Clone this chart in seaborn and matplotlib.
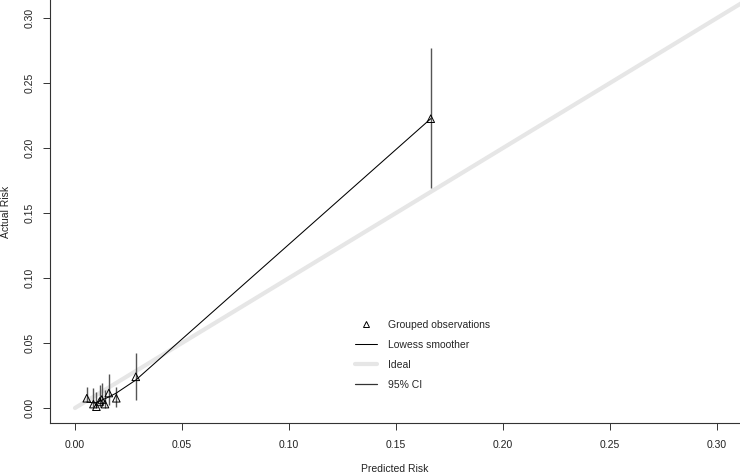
import matplotlib
matplotlib.use("Agg")
import matplotlib.pyplot as plt
from matplotlib.lines import Line2D
import seaborn as sns
import pandas as pd

# Grouped observations
pred = [0.0055, 0.0086, 0.0100, 0.0115, 0.0125, 0.0140, 0.0158, 0.0193, 0.0284, 0.1662]
obs = [0.0075, 0.0030, 0.0010, 0.0050, 0.0065, 0.0030, 0.0115, 0.0075, 0.0240, 0.2225]
ci_low = [0.0045, 0.0010, 0.0000, 0.0005, 0.0015, 0.0000, 0.0020, 0.0005, 0.0060, 0.1690]
ci_high = [0.0165, 0.0150, 0.0120, 0.0180, 0.0190, 0.0140, 0.0265, 0.0160, 0.0420, 0.2770]

# Lowess smoother
lowess_x = [0.0055, 0.0086, 0.0100, 0.0125, 0.0158, 0.0193, 0.0284, 0.1662]
lowess_y = [0.0045, 0.0040, 0.0042, 0.0060, 0.0085, 0.0115, 0.0215, 0.2225]

# Ideal line
ideal = [0.0, 0.32]

ticks = [0.00, 0.05, 0.10, 0.15, 0.20, 0.25, 0.30]
tick_labels = ["0.00", "0.05", "0.10", "0.15", "0.20", "0.25", "0.30"]

sns.set_style("ticks")
plt.rcParams["font.family"] = ["Liberation Sans", "DejaVu Sans"]

W, H = 740, 475
fig = plt.figure(figsize=(W / 100, H / 100), dpi=100)
ax = fig.add_axes([50 / W, 52 / H, 690 / W, 423 / H])

obs_df = pd.DataFrame({"pred": pred, "obs": obs})
low_df = pd.DataFrame({"x": lowess_x, "y": lowess_y})
ideal_df = pd.DataFrame({"x": ideal, "y": ideal})

sns.lineplot(data=ideal_df, x="x", y="y", ax=ax, color="#e6e6e6", linewidth=3, zorder=1)
ax.vlines(pred, ci_low, ci_high, color="#555555", linewidth=1.0, zorder=2)
sns.lineplot(data=low_df, x="x", y="y", ax=ax, color="black", linewidth=0.75,
             sort=False, estimator=None, zorder=3)
sns.scatterplot(data=obs_df, x="pred", y="obs", ax=ax, marker="^", s=30,
                facecolor="none", edgecolor="black", linewidth=0.7, zorder=4)

ax.set_xlim(-0.01168, 0.3107)
ax.set_ylim(-0.01154, 0.3138)
ax.set_xticks(ticks)
ax.set_xticklabels(tick_labels)
ax.set_yticks(ticks)
ax.set_yticklabels(tick_labels, rotation=90, va="center")
ax.tick_params(axis="both", labelsize=7.5, length=5, width=0.7, colors="#333333",
               labelcolor="#222222")
ax.tick_params(axis="x", pad=7)
ax.tick_params(axis="y", pad=6)
for s in ["top", "right"]:
    ax.spines[s].set_visible(False)
for s in ["left", "bottom"]:
    ax.spines[s].set_linewidth(0.8)
    ax.spines[s].set_color("#333333")

ax.set_xlabel("Predicted Risk", fontsize=7.5, color="#222222", labelpad=10)
ax.set_ylabel("Actual Risk", fontsize=7.5, color="#222222", labelpad=10)

handles = [
    Line2D([], [], linestyle="none", marker="^", markersize=4.5, markerfacecolor="none",
           markeredgecolor="black", markeredgewidth=0.7),
    Line2D([], [], color="black", linewidth=0.75),
    Line2D([], [], color="#e6e6e6", linewidth=3),
    Line2D([], [], color="#333333", linewidth=0.9),
]
labels = ["Grouped observations", "Lowess smoother", "Ideal", "95% CI"]
fig.legend(handles, labels, loc="upper left", bbox_to_anchor=(355 / W, 1 - 320 / H),
           frameon=False, fontsize=7.5, handlelength=2.1, handletextpad=1.1,
           labelspacing=0.95, borderpad=0, borderaxespad=0)

fig.savefig("out.png", dpi=100)
